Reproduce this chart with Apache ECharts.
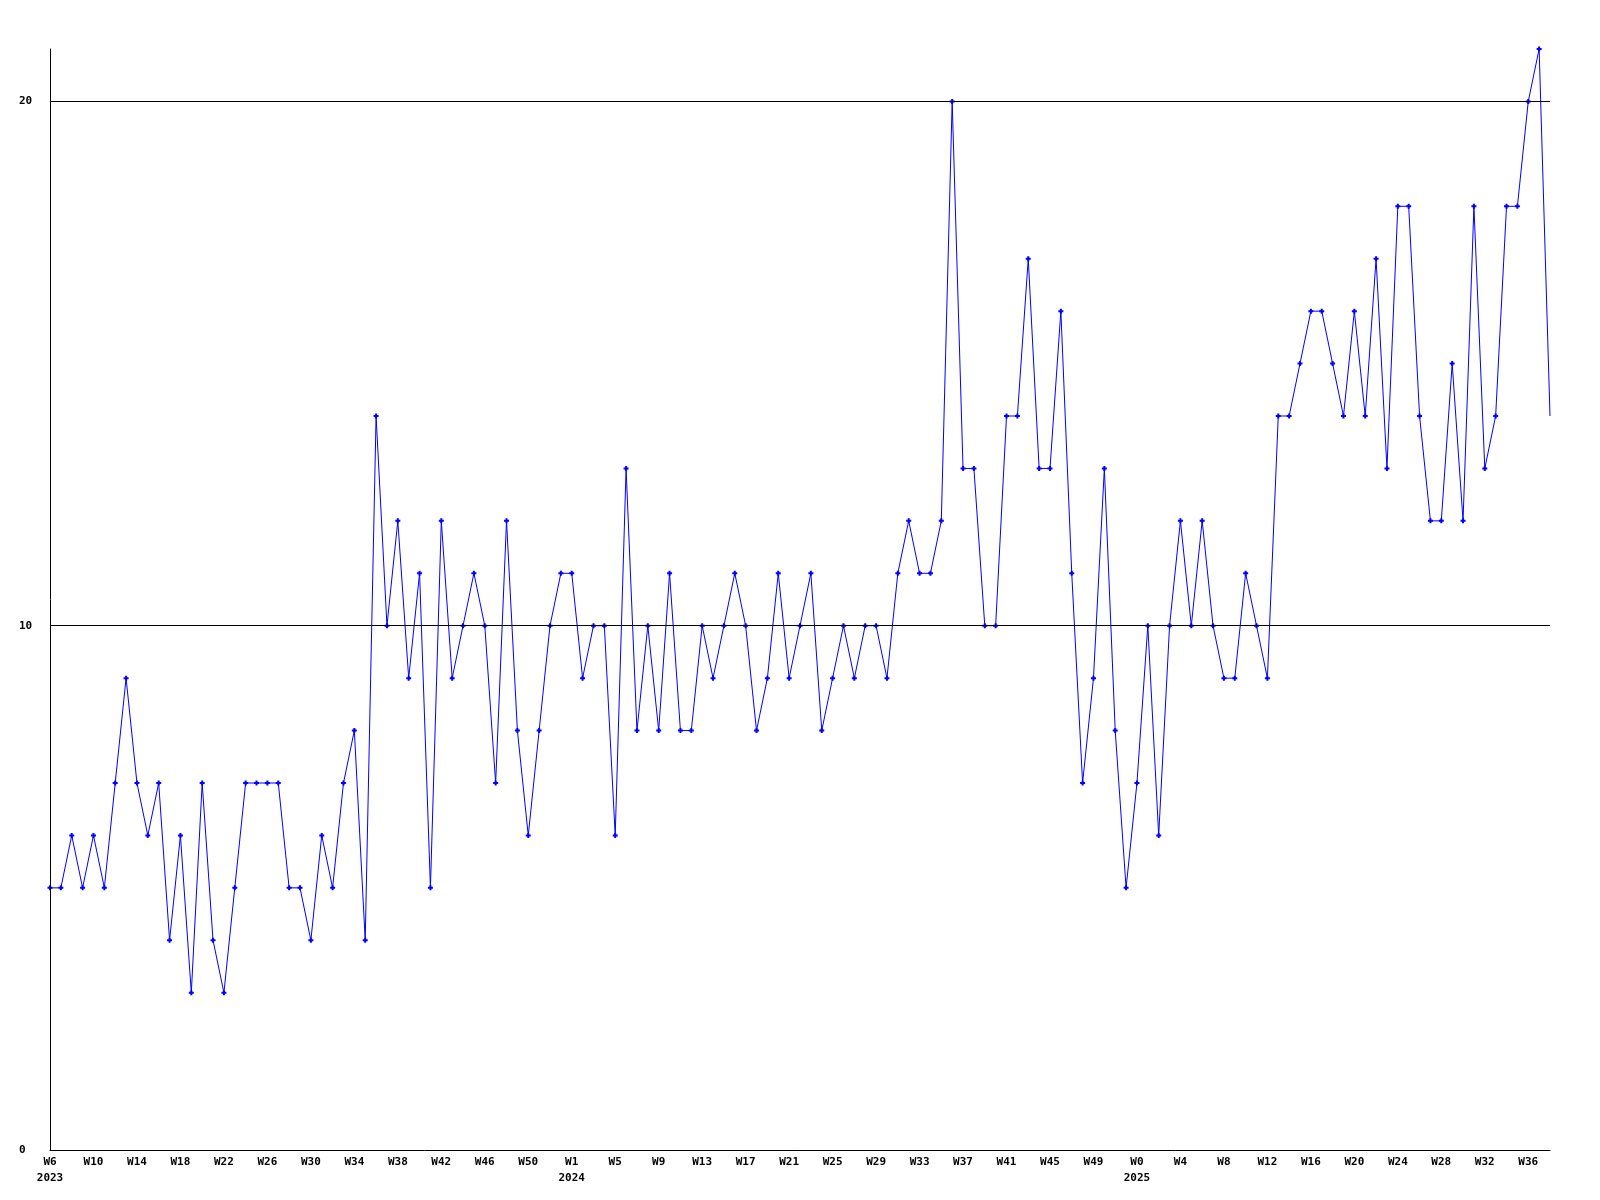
<!DOCTYPE html>
<html>
<head>
<meta charset="utf-8">
<script src="https://cdn.jsdelivr.net/npm/echarts@6/dist/echarts.min.js"></script>
<style>
html,body{margin:0;padding:0;background:#fff;}
#chart{width:1600px;height:1200px;}
</style>
</head>
<body>
<div id="chart"></div>
<script>
// Weekly values, one per week, starting at W6 2023
const values = [
  5,5,6,5,6,5,7,9,7,6,7,4,6,3,7,4,3,5,7,7,7,7,5,5,4,6,5,7,8,4,
  14,10,12,9,11,5,12,9,10,11,10,7,12,8,6,8,10,11,11,9,
  10,10,6,13,8,10,8,11,8,8,10,9,10,11,10,8,9,11,9,10,
  11,8,9,10,9,10,10,9,11,12,11,11,12,20,13,13,10,10,14,14,
  17,13,13,16,11,7,9,13,8,5,7,10,6,10,12,10,12,10,9,9,
  11,10,9,14,14,15,16,16,15,14,16,14,17,13,18,18,14,12,12,15,
  12,18,13,14,18,18,20,21,14
];
// Tick labels, shown every 4th week
const tickLabels = [
  'W6\n2023','W10','W14','W18','W22','W26','W30','W34','W38','W42','W46','W50',
  'W1\n2024','W5','W9','W13','W17','W21','W25','W29','W33','W37','W41','W45','W49',
  'W0\n2025','W4','W8','W12','W16','W20','W24','W28','W32','W36'
];
const yTicks = [0, 10, 20];
const labelStep = 4;

const categories = values.map((v, i) => (i % labelStep === 0 ? (tickLabels[i / labelStep] || '') : ''));
const seriesData = values.map((v, i) => (i === values.length - 1 ? { value: v, symbol: 'none' } : v));

const font = '"DejaVu Sans Mono", "Liberation Mono", monospace';
const chart = echarts.init(document.getElementById('chart'), null, { renderer: 'canvas' });
chart.setOption({
  animation: false,
  backgroundColor: '#ffffff',
  grid: { left: 50, right: 50, top: 49, bottom: 50, containLabel: false },
  xAxis: {
    type: 'category',
    data: categories,
    boundaryGap: false,
    axisLine: { show: true, lineStyle: { color: '#000', width: 1 } },
    axisTick: { show: false },
    splitLine: { show: false },
    axisLabel: {
      interval: labelStep - 1,
      color: '#000',
      fontFamily: font,
      fontWeight: 'bold',
      fontSize: 11,
      lineHeight: 16,
      margin: 4,
      hideOverlap: false
    }
  },
  yAxis: {
    type: 'value',
    min: 0,
    max: 21,
    interval: 10,
    z: 3,
    axisLine: { show: true, lineStyle: { color: '#000', width: 1 } },
    axisTick: { show: false },
    splitLine: { show: true, showMinLine: false, showMaxLine: false, lineStyle: { color: '#000', width: 1 } },
    axisLabel: {
      showMaxLabel: false,
      color: '#000',
      fontFamily: font,
      fontWeight: 'bold',
      fontSize: 11,
      align: 'left',
      margin: 31,
      formatter: (v) => (yTicks.indexOf(v) >= 0 ? String(v) : '')
    }
  },
  series: [{
    type: 'line',
    data: seriesData,
    symbol: 'path://M1.5,0H3.5V1.5H5V3.5H3.5V5H1.5V3.5H0V1.5H1.5Z',
    symbolSize: 5,
    showAllSymbol: true,
    itemStyle: { color: '#0000ff', borderWidth: 0 },
    lineStyle: { color: '#0000ff', width: 1 },
    z: 2
  }]
});
</script>
</body>
</html>
